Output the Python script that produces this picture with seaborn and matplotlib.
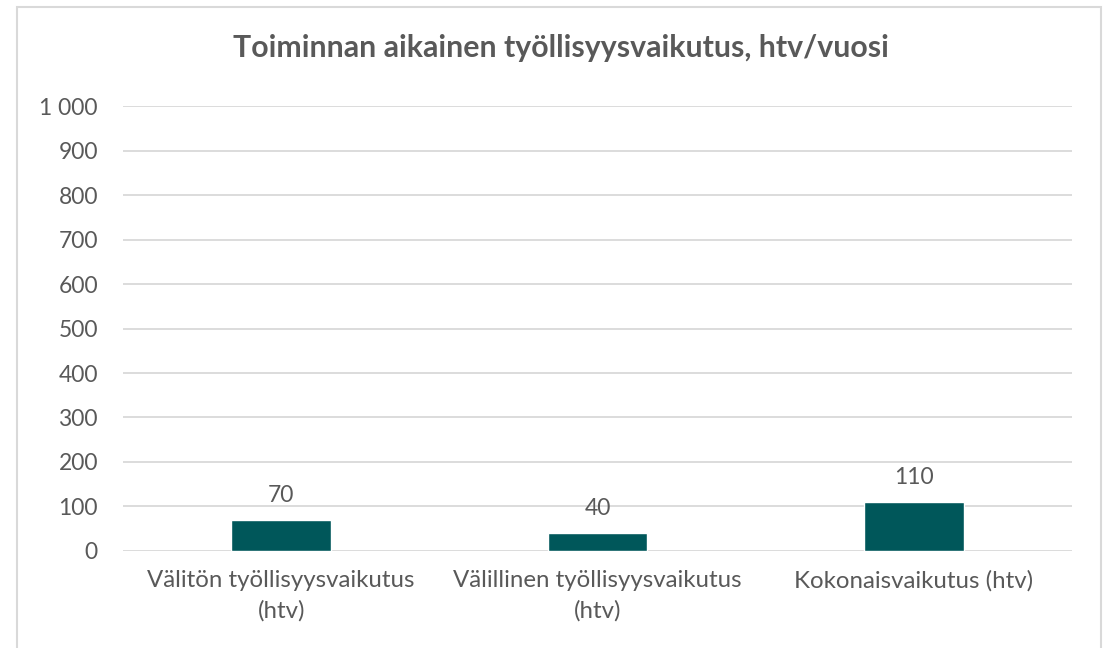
import matplotlib.pyplot as plt
import matplotlib.ticker as mticker
from matplotlib.patches import Rectangle
import pandas as pd
import seaborn as sns

categories = ['Välitön työllisyysvaikutus\n(htv)', 'Välillinen työllisyysvaikutus\n(htv)', 'Kokonaisvaikutus (htv)']
values = [70, 40, 110]
title = 'Toiminnan aikainen työllisyysvaikutus, htv/vuosi'

df = pd.DataFrame({'kategoria': categories, 'htv': values})

sns.set_theme(style='white')
plt.rcParams['font.family'] = ['Lato', 'DejaVu Sans']
grey = '#595959'

fig = plt.figure(figsize=(11.1, 6.48), dpi=100)
ax = fig.add_axes([0.1108, 0.1497, 0.855, 0.6867])

sns.barplot(data=df, x='kategoria', y='htv', color='#00575A', width=0.316, saturation=1, ax=ax)

ax.set_ylim(0, 1000)
ax.set_yticks(range(0, 1001, 100))
ax.yaxis.set_major_formatter(mticker.FuncFormatter(lambda v, p: f'{int(v):,}'.replace(',', ' ')))
ax.grid(axis='y', color='#D9D9D9', linewidth=1.3)
ax.set_axisbelow(True)
for s in ax.spines.values():
    s.set_visible(False)
ax.set_xlabel('')
ax.set_ylabel('')
ax.tick_params(axis='both', colors=grey, labelsize=16.5, length=0)
ax.tick_params(axis='x', labelsize=17.3, pad=14)
ax.tick_params(axis='y', pad=18)
for lbl in ax.get_xticklabels():
    lbl.set_linespacing(1.5)

for c in ax.containers:
    ax.bar_label(c, padding=10, fontsize=16.5, color=grey)

fig.text(0.505, 0.926, title, ha='center', va='center', fontsize=21.8, fontweight='bold', color=grey)

fig.patches.append(Rectangle((17 / 1110, -0.01), (1101 - 17) / 1110, 1 - 7 / 648 + 0.01,
                             transform=fig.transFigure, fill=False, edgecolor='#D9D9D9', linewidth=1.5))

fig.savefig('out.png', dpi=100)
